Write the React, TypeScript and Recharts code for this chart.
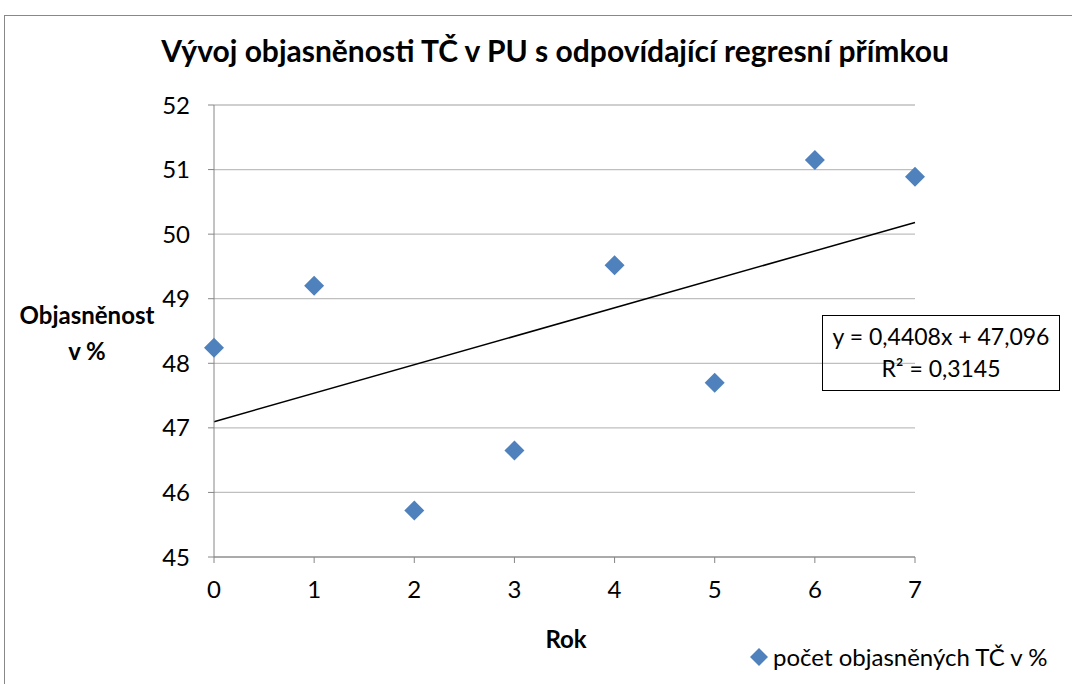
import React from 'react';
import { ComposedChart, Scatter, XAxis, YAxis, CartesianGrid, ReferenceLine } from 'recharts';

const years = [0, 1, 2, 3, 4, 5, 6, 7];
const clearance = [48.24, 49.2, 45.72, 46.65, 49.52, 47.7, 51.15, 50.89];
const xTicks = [0, 1, 2, 3, 4, 5, 6, 7];
const yTicks = [45, 46, 47, 48, 49, 50, 51, 52];
const slope = 0.4408;
const intercept = 47.096;
const seriesName = 'počet objasněných TČ v %';

const points = years.map((x, i) => ({ x, y: clearance[i] }));
const trend = [
  { x: 0, y: intercept },
  { x: 7, y: intercept + slope * 7 },
];

const FONT = 'Lato, "Open Sans", sans-serif';
const BLUE = '#4f81bd';

const Diamond = (props: any) => {
  const { cx, cy } = props;
  const r = 10;
  return <path d={`M${cx},${cy - r}L${cx + r},${cy}L${cx},${cy + r}L${cx - r},${cy}Z`} fill={BLUE} />;
};

const App: React.FC = () => {
  return (
    <div style={{ position: 'absolute', left: 0, top: 0, width: 1072, height: 684, background: '#fff', overflow: 'hidden' }}>
      <div style={{ position: 'absolute', left: 4, top: 15, width: 1100, height: 700, border: '1px solid #888' }} />
      <div style={{ position: 'absolute', left: 0, width: 1110, top: 32, textAlign: 'center', fontFamily: FONT, fontWeight: 700, fontSize: 30, color: '#000' }}>
        Vývoj objasněnosti TČ v PU s odpovídající regresní přímkou
      </div>
      <ComposedChart width={1072} height={684} margin={{ top: 105, right: 157, bottom: 97, left: 154 }} style={{ position: 'absolute', left: 0, top: 0 }}>
        <CartesianGrid vertical={false} stroke="#bfbfbf" strokeWidth={1.3} />
        <XAxis
          type="number"
          dataKey="x"
          domain={[0, 7]}
          ticks={xTicks}
          height={30}
          stroke="#868686"
          tickSize={6}
          tickMargin={18}
          tick={{ fill: '#000', fontSize: 24, fontFamily: FONT }}
        />
        <YAxis
          type="number"
          dataKey="y"
          domain={[45, 52]}
          ticks={yTicks}
          width={60}
          stroke="#868686"
          tickSize={6}
          tickMargin={18}
          tick={{ fill: '#000', fontSize: 24, fontFamily: FONT }}
        />
        <ReferenceLine segment={trend} stroke="#000" strokeWidth={1.5} ifOverflow="visible" />
        <Scatter name={seriesName} data={points} dataKey="y" fill={BLUE} shape={Diamond} isAnimationActive={false} />
      </ComposedChart>
      <div style={{ position: 'absolute', left: 749, top: 642, display: 'flex', alignItems: 'center', fontFamily: FONT, fontSize: 24, color: '#000' }}>
        <svg width={20} height={20} style={{ marginRight: 4 }}>
          <path d="M10,1L19,10L10,19L1,10Z" fill={BLUE} />
        </svg>
        <span>{seriesName}</span>
      </div>
      <div style={{ position: 'absolute', left: 6, top: 297, width: 162, textAlign: 'center', fontFamily: FONT, fontWeight: 700, fontSize: 24, lineHeight: '36px', color: '#000' }}>
        Objasněnost<br />v %
      </div>
      <div style={{ position: 'absolute', left: 506, top: 624, width: 120, textAlign: 'center', fontFamily: FONT, fontWeight: 700, fontSize: 24, color: '#000' }}>
        Rok
      </div>
      <div style={{ position: 'absolute', left: 822, top: 315, width: 236, height: 70, border: '1.5px solid #000', textAlign: 'center', fontFamily: FONT, fontSize: 23, lineHeight: '32px', paddingTop: 4, color: '#000', boxSizing: 'content-box' }}>
        y = 0,4408x + 47,096<br />R² = 0,3145
      </div>
    </div>
  );
};

export default App;
